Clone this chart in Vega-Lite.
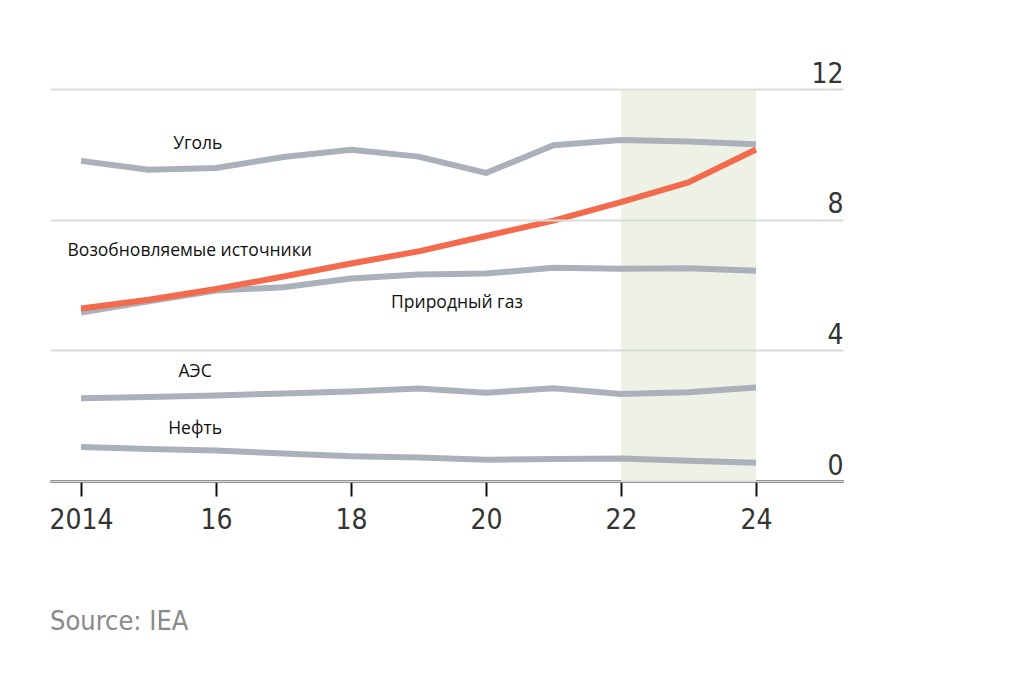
{
  "$schema": "https://vega.github.io/schema/vega-lite/v6.json",
  "width": 793,
  "height": 392,
  "autosize": {"type": "none"},
  "padding": {"left": 50, "top": 89, "right": 181, "bottom": 201},
  "background": "#ffffff",
  "config": {"view": {"stroke": null}},
  "title": {
    "text": "Source: IEA",
    "orient": "bottom",
    "anchor": "start",
    "frame": "group",
    "offset": 75,
    "fontSize": 27,
    "font": "DejaVu Sans Condensed, sans-serif",
    "fontWeight": "normal",
    "color": "#8a8a8a"
  },
  "datasets": {
    "series": [
      {"year": 2014, "series": "Уголь", "value": 9.8},
      {"year": 2015, "series": "Уголь", "value": 9.53},
      {"year": 2016, "series": "Уголь", "value": 9.58},
      {"year": 2017, "series": "Уголь", "value": 9.92},
      {"year": 2018, "series": "Уголь", "value": 10.14},
      {"year": 2019, "series": "Уголь", "value": 9.93},
      {"year": 2020, "series": "Уголь", "value": 9.43},
      {"year": 2021, "series": "Уголь", "value": 10.28},
      {"year": 2022, "series": "Уголь", "value": 10.44},
      {"year": 2023, "series": "Уголь", "value": 10.39},
      {"year": 2024, "series": "Уголь", "value": 10.31},
      {"year": 2014, "series": "Природный газ", "value": 5.16},
      {"year": 2015, "series": "Природный газ", "value": 5.5},
      {"year": 2016, "series": "Природный газ", "value": 5.83},
      {"year": 2017, "series": "Природный газ", "value": 5.93},
      {"year": 2018, "series": "Природный газ", "value": 6.2},
      {"year": 2019, "series": "Природный газ", "value": 6.32},
      {"year": 2020, "series": "Природный газ", "value": 6.35},
      {"year": 2021, "series": "Природный газ", "value": 6.53},
      {"year": 2022, "series": "Природный газ", "value": 6.5},
      {"year": 2023, "series": "Природный газ", "value": 6.51},
      {"year": 2024, "series": "Природный газ", "value": 6.44},
      {"year": 2014, "series": "АЭС", "value": 2.53},
      {"year": 2015, "series": "АЭС", "value": 2.57},
      {"year": 2016, "series": "АЭС", "value": 2.62},
      {"year": 2017, "series": "АЭС", "value": 2.68},
      {"year": 2018, "series": "АЭС", "value": 2.74},
      {"year": 2019, "series": "АЭС", "value": 2.83},
      {"year": 2020, "series": "АЭС", "value": 2.7},
      {"year": 2021, "series": "АЭС", "value": 2.84},
      {"year": 2022, "series": "АЭС", "value": 2.66},
      {"year": 2023, "series": "АЭС", "value": 2.72},
      {"year": 2024, "series": "АЭС", "value": 2.86},
      {"year": 2014, "series": "Нефть", "value": 1.04},
      {"year": 2015, "series": "Нефть", "value": 0.98},
      {"year": 2016, "series": "Нефть", "value": 0.93},
      {"year": 2017, "series": "Нефть", "value": 0.84},
      {"year": 2018, "series": "Нефть", "value": 0.76},
      {"year": 2019, "series": "Нефть", "value": 0.72},
      {"year": 2020, "series": "Нефть", "value": 0.65},
      {"year": 2021, "series": "Нефть", "value": 0.67},
      {"year": 2022, "series": "Нефть", "value": 0.69},
      {"year": 2023, "series": "Нефть", "value": 0.62},
      {"year": 2024, "series": "Нефть", "value": 0.56},
      {"year": 2014, "series": "Возобновляемые источники", "value": 5.28},
      {"year": 2015, "series": "Возобновляемые источники", "value": 5.55},
      {"year": 2016, "series": "Возобновляемые источники", "value": 5.88},
      {"year": 2017, "series": "Возобновляемые источники", "value": 6.26},
      {"year": 2018, "series": "Возобновляемые источники", "value": 6.66},
      {"year": 2019, "series": "Возобновляемые источники", "value": 7.03},
      {"year": 2020, "series": "Возобновляемые источники", "value": 7.5},
      {"year": 2021, "series": "Возобновляемые источники", "value": 7.97},
      {"year": 2022, "series": "Возобновляемые источники", "value": 8.54},
      {"year": 2023, "series": "Возобновляемые источники", "value": 9.14},
      {"year": 2024, "series": "Возобновляемые источники", "value": 10.15}
    ],
    "labels": [
      {"label": "Уголь", "year": 2015.73, "value": 10.32},
      {"label": "Возобновляемые источники", "year": 2015.61, "value": 7.05},
      {"label": "Природный газ", "year": 2019.57, "value": 5.44},
      {"label": "АЭС", "year": 2015.69, "value": 3.33},
      {"label": "Нефть", "year": 2015.69, "value": 1.59}
    ],
    "band": [{"start": 2022, "end": 2024}]
  },
  "layer": [
    {
      "data": {"name": "band"},
      "mark": {"type": "rect", "color": "#edf1e6"},
      "encoding": {
        "x": {
          "field": "start",
          "type": "quantitative",
          "scale": {"domain": [2013.54, 2025.29], "nice": false, "zero": false},
          "axis": {
            "values": [2014, 2016, 2018, 2020, 2022, 2024],
            "labelExpr": "datum.value == 2014 ? '2014' : substring(toString(datum.value), 2, 4)",
            "title": null,
            "domainColor": "#111111",
            "domainWidth": 2.5,
            "tickColor": "#111111",
            "tickWidth": 2,
            "tickSize": 15,
            "labelFont": "DejaVu Sans Condensed, sans-serif",
            "labelFontSize": 28,
            "labelColor": "#333333",
            "labelPadding": 10,
            "grid": false
          }
        },
        "x2": {"field": "end"},
        "y": {
          "datum": 0,
          "type": "quantitative",
          "scale": {"domain": [0, 12], "nice": false},
          "axis": {
            "orient": "right",
            "values": [0, 4, 8, 12],
            "title": null,
            "domain": false,
            "ticks": false,
            "grid": true,
            "gridColor": "#d8ded7",
            "gridWidth": 2,
            "labelAlign": "right",
            "labelBaseline": "alphabetic",
            "labelPadding": 0,
            "labelOffset": -7,
            "labelFont": "DejaVu Sans Condensed, sans-serif",
            "labelFontSize": 28,
            "labelColor": "#333333",
            "zindex": 1
          }
        },
        "y2": {"datum": 12}
      }
    },
    {
      "data": {"name": "series"},
      "transform": [{"filter": "datum.series != 'Возобновляемые источники'"}],
      "mark": {"type": "line", "strokeWidth": 6, "color": "#aab1bb", "strokeJoin": "round", "strokeCap": "butt"},
      "encoding": {
        "x": {"field": "year", "type": "quantitative"},
        "y": {"field": "value", "type": "quantitative"},
        "detail": {"field": "series"}
      }
    },
    {
      "data": {"name": "series"},
      "transform": [{"filter": "datum.series == 'Возобновляемые источники'"}],
      "mark": {"type": "line", "strokeWidth": 6, "color": "#f46a4c", "strokeJoin": "round", "strokeCap": "butt"},
      "encoding": {
        "x": {"field": "year", "type": "quantitative"},
        "y": {"field": "value", "type": "quantitative"}
      }
    },
    {
      "data": {"name": "labels"},
      "mark": {"type": "text", "font": "Open Sans", "fontSize": 17.5, "color": "#111111", "baseline": "middle", "align": "center"},
      "encoding": {
        "x": {"field": "year", "type": "quantitative"},
        "y": {"field": "value", "type": "quantitative"},
        "text": {"field": "label"}
      }
    }
  ]
}
